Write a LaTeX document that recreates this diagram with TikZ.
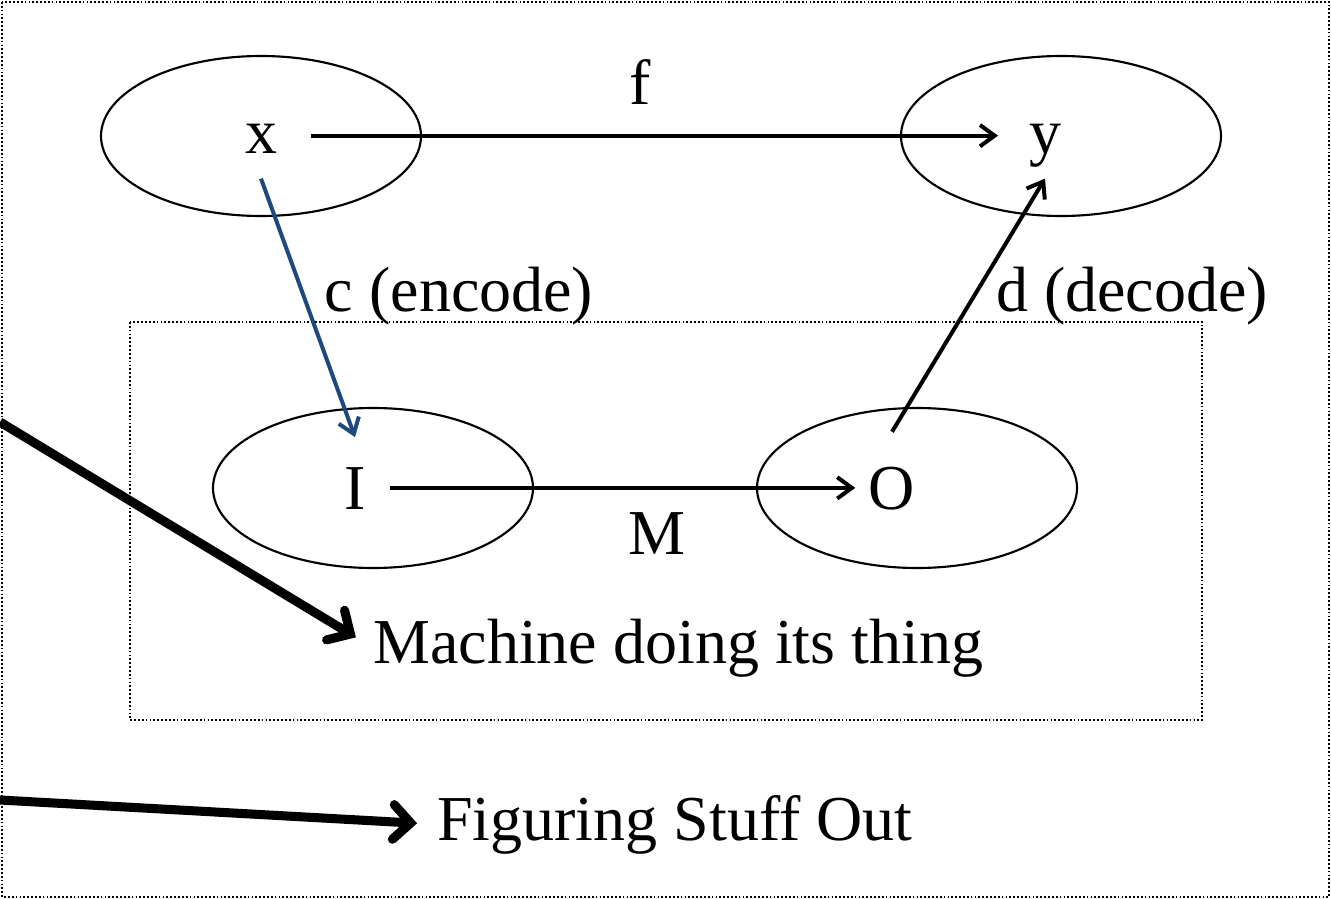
\documentclass[tikz,border=0pt]{standalone}
\usepackage{fontspec}
\setmainfont{Liberation Serif}
\usetikzlibrary{shapes.geometric,arrows.meta}
\definecolor{encblue}{RGB}{31,73,125}

\begin{document}
\begin{tikzpicture}[
    x=0.75pt,
    y=-0.75pt,
    font=\fontsize{48}{58}\selectfont,
    set/.style={
        draw,
        ellipse,
        line width=1.6pt,
        minimum width=240pt,
        minimum height=120pt
    },
    sym/.style={inner sep=0pt, anchor=base, text depth=0pt},
    word/.style={inner sep=0pt, anchor=base},
    maparrow/.style={
        -{Straight Barb[length=11pt,width=16pt]},
        line width=3pt
    },
    encarrow/.style={maparrow, draw=encblue},
    bigarrow/.style={
        -{Straight Barb[length=13pt,width=26pt,line cap=round]},
        line width=6.8pt,
        preaction={draw=black!22, transform canvas={shift={(2.5pt,-2.5pt)}}}
    },
    frame/.style={draw=black, line width=1.3pt, dash pattern=on 1.3pt off 1.6pt}
]
\useasboundingbox (0,0) rectangle (1331,899);

% Frames
\draw [frame] (2,2) rectangle (1329,897);
\draw [frame] (130,322) rectangle (1202,720);

% Sets
\node [set] (xset) at (261,136) {};
\node [set] (yset) at (1061,136) {};
\node [set] (Iset) at (373,488) {};
\node [set] (Oset) at (917,488) {};

% Symbols
\node [sym, text height=26pt] (x) at (261,153) {x};
\node [sym, text height=26pt] (y) at (1045,153) {y};
\node [sym, text height=31.7pt] (I) at (355,509) {I};
\node [sym, text height=31.7pt] (O) at (892,509) {O};

% Labels
\node [word] (f) at (640,104) {f};
\node [word] (enc) at (459,311) {c (encode)};
\node [word] (dec) at (1132,311) {d (decode)};
\node [word] (M) at (657,554) {M};
\node [word, anchor=base west] (machine) at (373,663) {Machine doing its thing};
\node [word, anchor=base west] (figuring) at (437,840) {Figuring Stuff Out};

% Maps
\draw [maparrow, shorten <=25pt, shorten >=23pt] (x.east) -- (y.west);
\draw [encarrow] ([yshift=-19pt]x.south) -- ([yshift=22pt]I.north);
\draw [maparrow] ([yshift=26pt]O.north) -- ([yshift=-19pt]y.south);
\draw [maparrow, shorten <=18pt, shorten >=10pt] (I.east) -- (O.west);

% Pointers from outside
\coordinate (fromtop) at (0,422);
\coordinate (frombottom) at (0,800);
\draw [bigarrow, shorten >=15pt] (fromtop) -- (machine.west);
\draw [bigarrow, shorten >=15pt] (frombottom) -- (figuring.west);

\end{tikzpicture}
\end{document}
